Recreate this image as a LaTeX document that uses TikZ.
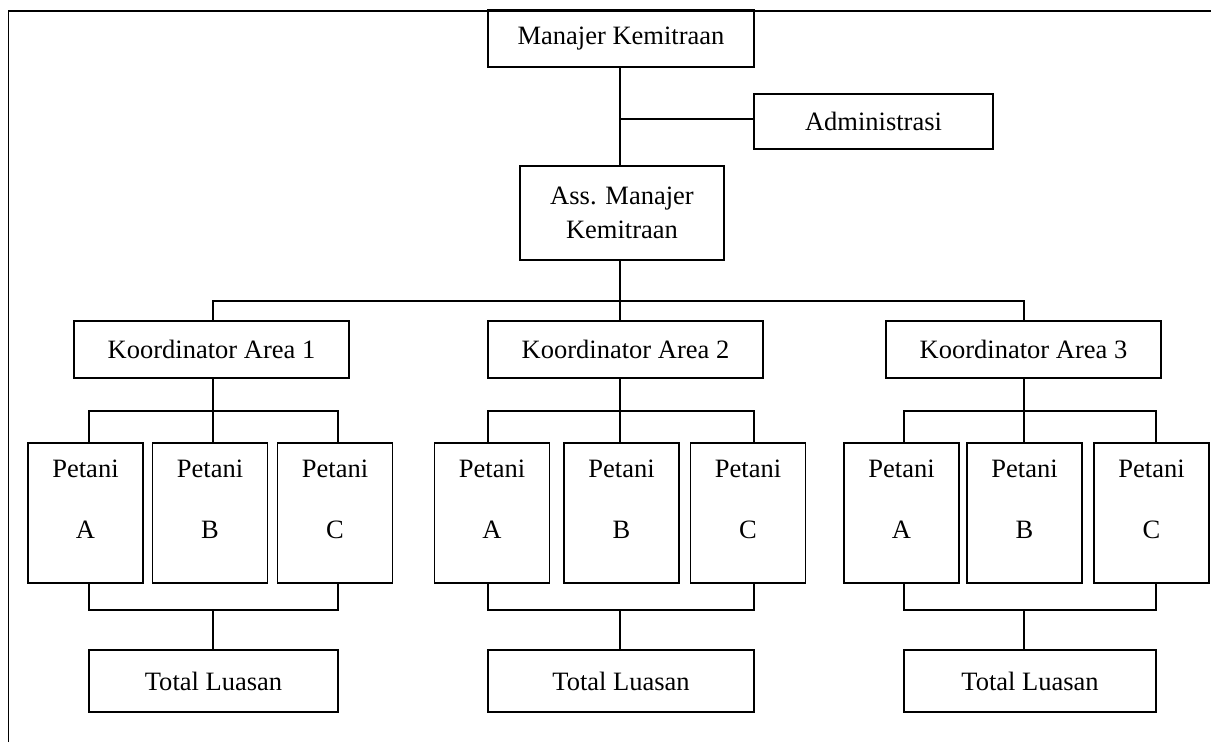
\documentclass[tikz,border=0pt]{standalone}
\usepackage{fontspec}
\setmainfont{Liberation Serif}
\newlength\px
\setlength\px{0.4528pt}
\tikzset{
  unit/.style={draw, line width=0.7pt, align=center, inner sep=0pt},
  area/.style={unit, minimum width=275\px, minimum height=57\px},
  farmer/.style={unit, minimum width=115\px, minimum height=140\px, text depth=12.5pt},
  total/.style={unit, minimum height=62\px},
  link/.style={line width=0.7pt},
}
\begin{document}
\begin{tikzpicture}[x=\px, y=-\px, font=\fontsize{12}{15.4}\selectfont]
  \useasboundingbox (0,0) rectangle (1211,742);
  \draw[line width=0.9pt] (8.5,742) -- (8.5,10.5) -- (1211,10.5);

  \node[unit, minimum width=266\px, minimum height=57\px] (mgr) at (621,38.5) {Manajer Kemitraan};
  \node[unit, minimum width=239\px, minimum height=55\px] (adm) at (873.5,121.5) {Administrasi};
  \node[unit, minimum width=204\px, minimum height=94\px] (ass) at (622,213) {Ass. Manajer\\Kemitraan};

  \coordinate (tee) at (620,119);
  \coordinate (hub) at (620,301);
  \draw[link] (mgr.south -| tee) -- (ass.north -| tee);
  \draw[link] (tee) -- (tee -| adm.west);
  \draw[link] (ass.south -| hub) -- (hub);

  % one block per area: coordinator, three farmers, total
  \foreach \i/\k/\s/\l/\r/\a/\b/\c in {1/211.5/213/89/338/85.5/210/335,
      2/625.5/620/488/754/492/621.5/748,
      3/1023.5/1024/904/1156/901.5/1024.5/1151.5}{
    \node[area] (k\i) at (\k,349.5) {Koordinator Area \i};
    \node[farmer] (pa\i) at (\a,513) {Petani\\[12.2pt]A};
    \node[farmer] (pb\i) at (\b,513) {Petani\\[12.2pt]B};
    \node[farmer] (pc\i) at (\c,513) {Petani\\[12.2pt]C};
    \node[total, minimum width={(\r-\l)*\px}] (t\i) at ({(\l+\r)/2},681) {Total Luasan};
    \coordinate (s\i) at (\s,411);
    \coordinate (l\i) at (\l,411);
    \coordinate (r\i) at (\r,411);
    \coordinate (sb\i) at (\s,610);
    \coordinate (lb\i) at (\l,610);
    \coordinate (rb\i) at (\r,610);
    \draw[link] (k\i.south -| s\i) -- (s\i |- pb\i.north);
    \draw[link] (l\i |- pa\i.north) -- (l\i) -- (r\i) -- (r\i |- pc\i.north);
    \draw[link] (lb\i |- pa\i.south) -- (lb\i) -- (rb\i) -- (rb\i |- pc\i.south);
    \draw[link] (sb\i) -- (sb\i |- t\i.north);
  }

  \draw[link] (k1.north -| s1) |- (hub) -| (k3.north -| s3);
  \draw[link] (hub) -- (hub |- k2.north);
\end{tikzpicture}
\end{document}
